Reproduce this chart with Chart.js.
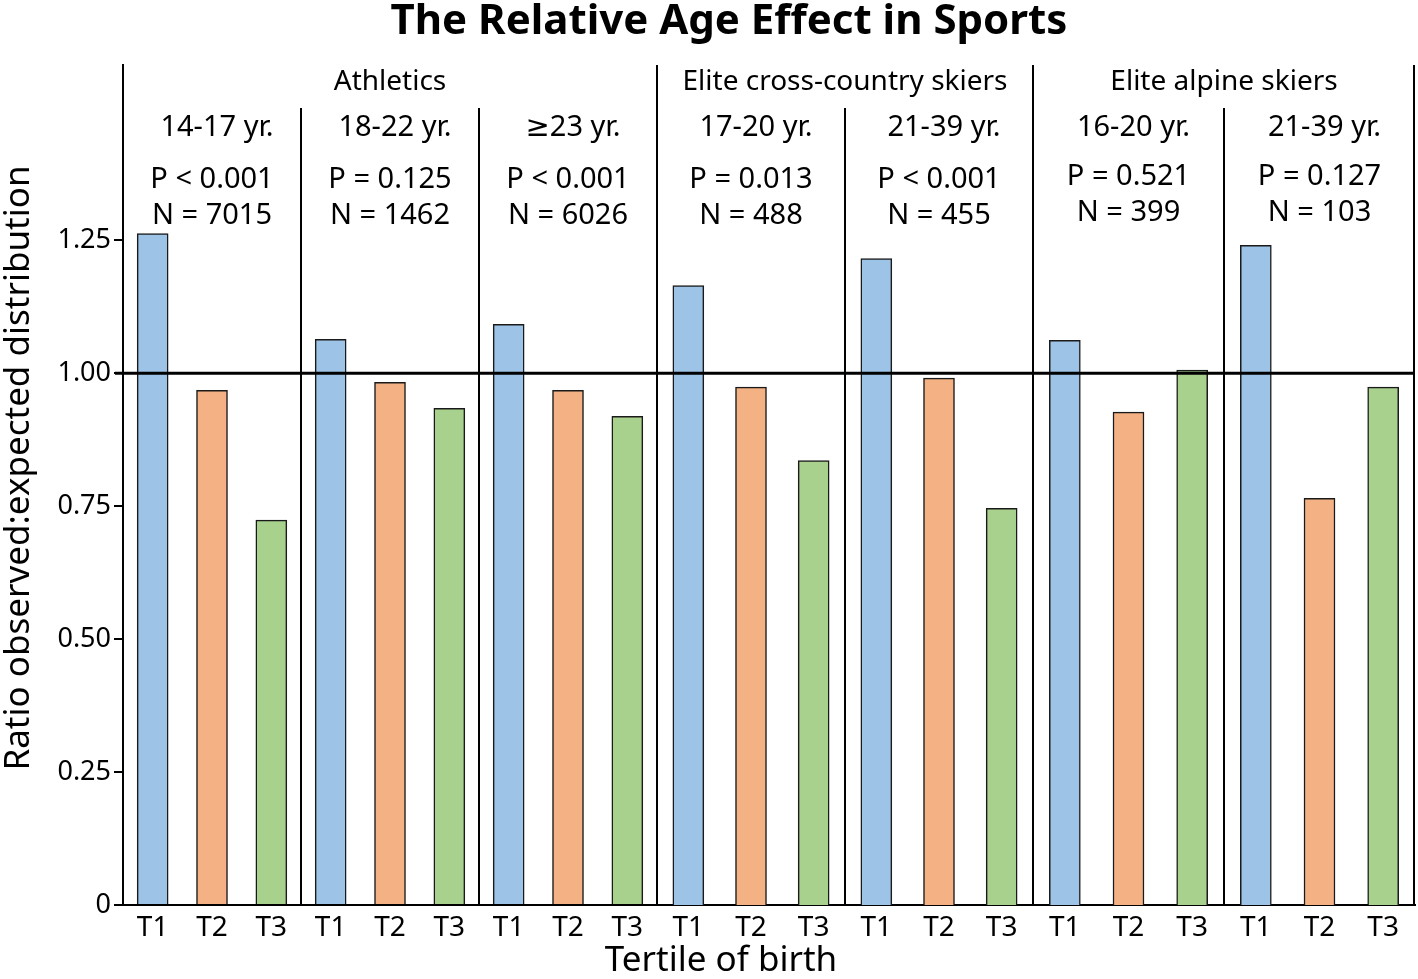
<!DOCTYPE html>
<html>
<head>
<meta charset="utf-8">
<script src="https://cdn.jsdelivr.net/npm/chart.js@4"></script>
<style>
  html, body { margin: 0; padding: 0; background: #fff; }
  #wrap { position: relative; width: 1418px; height: 979px; }
  .layer { position: absolute; left: 0; top: 0; width: 1418px; height: 979px; }
</style>
</head>
<body>
<div id="wrap">
  <div class="layer"><canvas id="c0"></canvas></div>
  <div class="layer"><canvas id="c1"></canvas></div>
  <div class="layer"><canvas id="c2"></canvas></div>
</div>
<script>
// ---------- data ----------
const tertiles = ['T1','T2','T3'];
const sports = ['Athletics','Elite cross-country skiers','Elite alpine skiers'];
const panelsPerSport = [3,2,2];
const ageGroups = ['14-17 yr.','18-22 yr.','\u226523 yr.','17-20 yr.','21-39 yr.','16-20 yr.','21-39 yr.'];
const pLabels = ['P < 0.001','P = 0.125','P < 0.001','P = 0.013','P < 0.001','P = 0.521','P = 0.127'];
const nLabels = ['N = 7015','N = 1462','N = 6026','N = 488','N = 455','N = 399','N = 103'];
const ratios = [1.263,0.968,0.724, 1.064,0.983,0.934, 1.092,0.968,0.919, 1.165,0.974,0.836, 1.216,0.991,0.746, 1.062,0.927,1.006, 1.241,0.765,0.974];
const yTicks = [0,0.25,0.5,0.75,1.0,1.25];
const referenceLine = 1.0;

// ---------- style / layout ----------
const tertileColors = ['#9DC3E6','#F4B183','#A9D18E'];
const FONT = '"Noto Sans", "DejaVu Sans", sans-serif';
const W = 1418, H = 979;
const sportEdges = [123, 657, 1033, 1415];
const PLOT_TOP = 65, XAXIS_H = 74, YAXIS_W = 123;

function makeChart(si) {
  const first = si === 0, last = si === sports.length - 1;
  const p0 = panelsPerSport.slice(0, si).reduce((a, b) => a + b, 0);
  const np = panelsPerSport[si];
  const labels = [], values = [], colors = [];
  for (let p = p0; p < p0 + np; p++) {
    for (let t = 0; t < 3; t++) {
      labels.push(tertiles[t]);
      values.push(ratios[p * 3 + t]);
      colors.push(tertileColors[t]);
    }
  }
  const left = sportEdges[si], right = sportEdges[si + 1];

  const plugin = {
    id: 'facet' + si,
    afterDatasetsDraw(chart) {
      const {ctx, chartArea: a, scales: {x, y}} = chart;
      const boundary = (k) => {
        if (k === 0) return a.left;
        if (k === np) return a.right;
        return (x.getPixelForValue(k * 3 - 1) + x.getPixelForValue(k * 3)) / 2;
      };
      ctx.save();
      ctx.strokeStyle = '#000';
      // reference line
      const yr = y.getPixelForValue(referenceLine);
      ctx.lineWidth = 3;
      ctx.beginPath(); ctx.moveTo(first ? a.left - 8 : a.left, yr); ctx.lineTo(a.right, yr); ctx.stroke();
      // separators
      ctx.lineWidth = 2;
      if (!first) { ctx.beginPath(); ctx.moveTo(a.left, a.top); ctx.lineTo(a.left, a.bottom); ctx.stroke(); }
      for (let k = 1; k < np; k++) {
        const xp = boundary(k);
        ctx.beginPath(); ctx.moveTo(xp, a.top + 43); ctx.lineTo(xp, a.bottom); ctx.stroke();
      }
      if (last) { ctx.beginPath(); ctx.moveTo(a.right - 1, a.top); ctx.lineTo(a.right - 1, a.bottom); ctx.stroke(); }
      // texts
      ctx.fillStyle = '#000';
      ctx.textAlign = 'center';
      ctx.textBaseline = 'middle';
      ctx.font = '28px ' + FONT;
      ctx.fillText(sports[si], (a.left + a.right) / 2, a.top + 17);
      ctx.font = '29px ' + FONT;
      for (let k = 0; k < np; k++) {
        const cx = (boundary(k) + boundary(k + 1)) / 2;
        const p = p0 + k;
        const shift = si === 2 ? -3 : 0;
        ctx.fillText(ageGroups[p], cx + 5, a.top + 63);
        ctx.fillText(pLabels[p], cx, a.top + 115 + shift);
        ctx.fillText(nLabels[p], cx, a.top + 151 + shift);
      }
      if (first) {
        ctx.font = 'bold 42px ' + FONT;
        ctx.fillText('The Relative Age Effect in Sports', 729, 22);
        ctx.font = '35px ' + FONT;
        ctx.fillText('Tertile of birth', 721, 961);
        ctx.save();
        ctx.translate(19, 468);
        ctx.rotate(-Math.PI / 2);
        ctx.fillText('Ratio observed:expected distribution', 0, 0);
        ctx.restore();
      }
      ctx.restore();
    }
  };

  return new Chart(document.getElementById('c' + si), {
    type: 'bar',
    data: {
      labels: labels,
      datasets: [{
        data: values,
        backgroundColor: colors,
        borderColor: '#1a1a1a',
        borderWidth: 1.5,
        barThickness: 31
      }]
    },
    options: {
      responsive: true,
      maintainAspectRatio: false,
      animation: false,
      layout: { padding: { left: left - YAXIS_W, right: W - right, top: PLOT_TOP, bottom: 0 } },
      plugins: { legend: { display: false }, tooltip: { enabled: false } },
      scales: {
        x: {
          grid: { display: false, drawTicks: false },
          border: { display: true, color: '#000', width: 2 },
          ticks: { color: '#000', font: { family: FONT, size: 28 }, padding: 6, maxRotation: 0, autoSkip: false },
          afterFit(s) { s.height = XAXIS_H; }
        },
        y: {
          display: first,
          min: 0,
          max: 1.58,
          afterBuildTicks(s) { s.ticks = yTicks.map(v => ({ value: v })); },
          grid: { drawOnChartArea: false, drawTicks: true, tickLength: 9, color: '#000', lineWidth: 2 },
          border: { display: true, color: '#000', width: 2 },
          ticks: {
            color: '#000',
            font: { family: FONT, size: 27 },
            padding: 3,
            callback: v => v === 0 ? '0' : v.toFixed(2)
          },
          afterFit(s) { s.width = YAXIS_W; }
        }
      }
    },
    plugins: [plugin]
  });
}

sports.forEach((_, i) => makeChart(i));
</script>
</body>
</html>
